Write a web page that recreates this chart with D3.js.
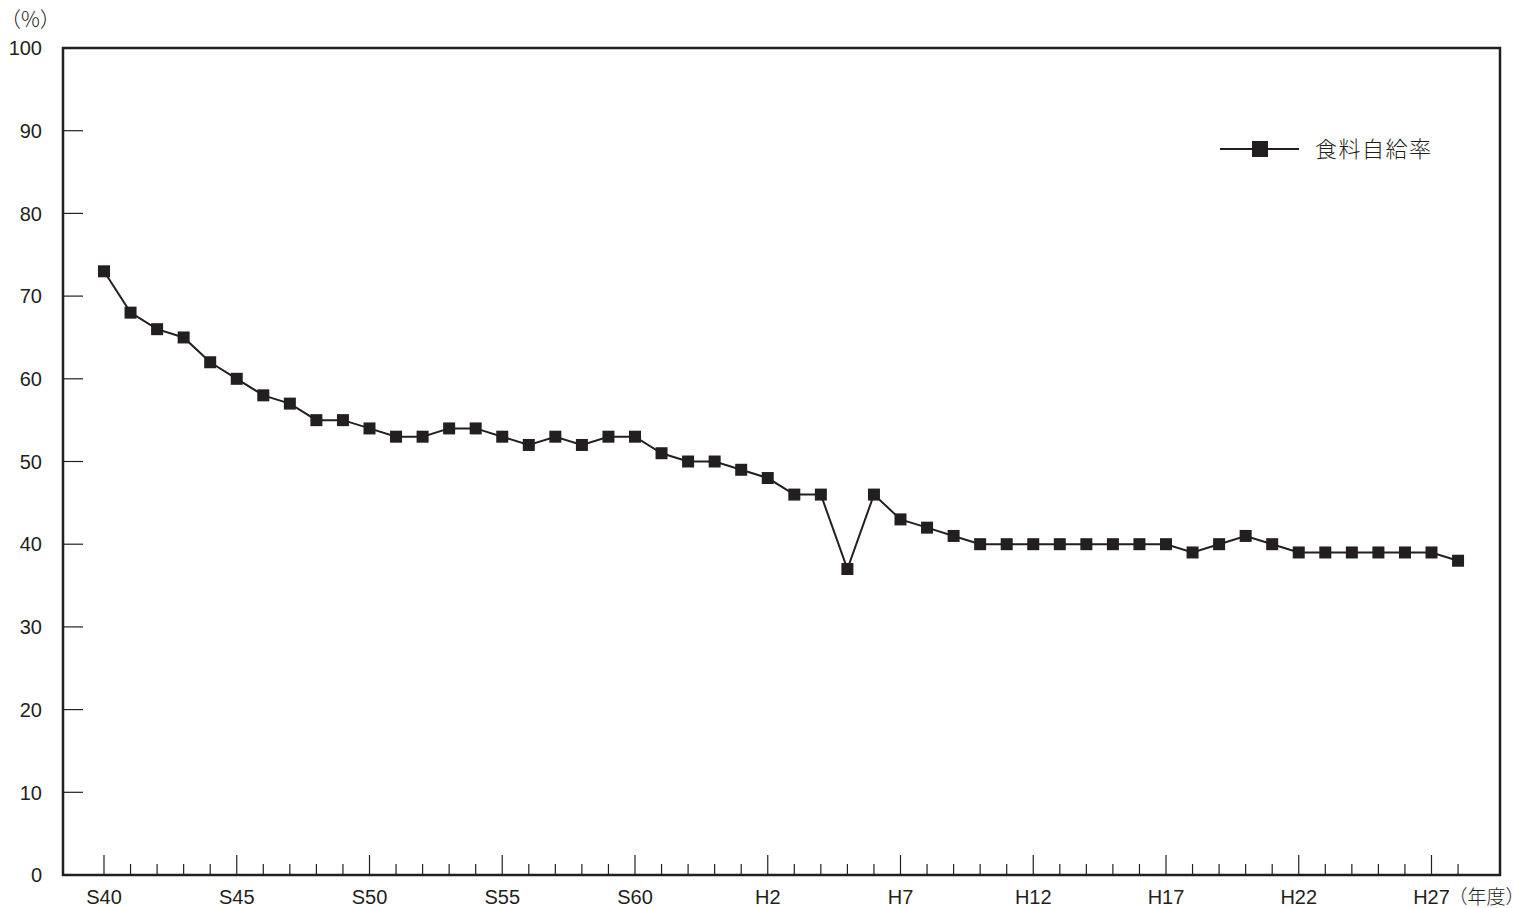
<!DOCTYPE html>
<html>
<head>
<meta charset="utf-8">
<script src="https://cdn.jsdelivr.net/npm/d3@7"></script>
<style>
  body { margin: 0; background: #fff; }
  svg text { font-family: "Liberation Sans", "Noto Sans CJK JP", sans-serif; fill: #231f20; }
  svg text.jp { font-family: "Noto Sans CJK JP", sans-serif; font-weight: 300; }
</style>
</head>
<body>
<div id="chart"></div>
<script>
// fiscal years S40 (1965) .. H28 (2016)
var years = d3.range(1965, 2017);
var rate = [73, 68, 66, 65, 62, 60, 58, 57, 55, 55,
            54, 53, 53, 54, 54, 53, 52, 53, 52, 53,
            53, 51, 50, 50, 49, 48, 46, 46, 37, 46,
            43, 42, 41, 40, 40, 40, 40, 40, 40, 40,
            40, 39, 40, 41, 40, 39, 39, 39, 39, 39,
            39, 38];
var yTicks = [10, 20, 30, 40, 50, 60, 70, 80, 90];
var yLabels = [0, 10, 20, 30, 40, 50, 60, 70, 80, 90, 100];
var xLabelYears = [1965, 1970, 1975, 1980, 1985, 1990, 1995, 2000, 2005, 2010, 2015];
var xLabels = ["S40", "S45", "S50", "S55", "S60", "H2", "H7", "H12", "H17", "H22", "H27"];
var seriesName = "食料自給率";

var ink = "#231f20";
var width = 1531, height = 908;
var margin = {top: 48, right: 31, bottom: 33, left: 63},
    w = width - margin.left - margin.right,
    h = height - margin.top - margin.bottom;

var svg = d3.select("#chart").append("svg")
    .attr("width", width)
    .attr("height", height);

var g = svg.append("g")
    .attr("transform", "translate(" + margin.left + "," + margin.top + ")");

var x = d3.scaleLinear().domain([1963.456, 2017.58]).range([0, w]);
var y = d3.scaleLinear().domain([0, 100]).range([h, 0]);

// y tick marks (inside)
g.selectAll(".ytick")
    .data(yTicks)
    .enter().append("line")
    .attr("x1", 0).attr("x2", 20)
    .attr("y1", function (d) { return y(d); })
    .attr("y2", function (d) { return y(d); })
    .attr("stroke", ink)
    .attr("stroke-width", 1.2);

// x tick marks (inside, longer every 5 years)
g.selectAll(".xtick")
    .data(years)
    .enter().append("line")
    .attr("x1", function (d) { return x(d); })
    .attr("x2", function (d) { return x(d); })
    .attr("y1", h)
    .attr("y2", function (d) { return (d - 1965) % 5 == 0 ? h - 20 : h - 11; })
    .attr("stroke", ink)
    .attr("stroke-width", 1.2);

// frame
g.append("rect")
    .attr("width", w).attr("height", h)
    .attr("fill", "none")
    .attr("stroke", ink)
    .attr("stroke-width", 2.5);

// y labels
g.selectAll(".ylab")
    .data(yLabels)
    .enter().append("text")
    .attr("x", -21)
    .attr("y", function (d) { return y(d); })
    .attr("dy", "0.36em")
    .attr("text-anchor", "end")
    .style("font-size", "20px")
    .text(function (d) { return d; });

svg.append("text")
    .attr("class", "jp")
    .attr("x", 0).attr("y", 27)
    .style("font-size", "21px")
    .text("（%）");

// x labels
g.selectAll(".xlab")
    .data(xLabelYears)
    .enter().append("text")
    .attr("x", function (d) { return x(d); })
    .attr("y", h + 29)
    .attr("text-anchor", "middle")
    .style("font-size", "20px")
    .text(function (d, i) { return xLabels[i]; });

g.append("text")
    .attr("class", "jp")
    .attr("x", x(2015) + 17)
    .attr("y", h + 29)
    .style("font-size", "19px")
    .text("（年度）");

// line
var line = d3.line()
    .x(function (d, i) { return x(years[i]); })
    .y(function (d) { return y(d); });

g.append("path")
    .datum(rate)
    .attr("d", line)
    .attr("fill", "none")
    .attr("stroke", ink)
    .attr("stroke-width", 2);

g.selectAll(".pt")
    .data(rate)
    .enter().append("rect")
    .attr("x", function (d, i) { return x(years[i]) - 6; })
    .attr("y", function (d) { return y(d) - 6; })
    .attr("width", 12).attr("height", 12)
    .attr("fill", ink);

// legend
var lg = svg.append("g").attr("transform", "translate(1220,149)");
lg.append("line")
    .attr("x1", 0).attr("x2", 79)
    .attr("stroke", ink).attr("stroke-width", 2);
lg.append("rect")
    .attr("x", 32).attr("y", -8)
    .attr("width", 16).attr("height", 16)
    .attr("fill", ink);
lg.append("text")
    .attr("class", "jp")
    .attr("x", 95).attr("dy", "0.36em")
    .style("font-size", "22px")
    .style("letter-spacing", "1.5px")
    .text(seriesName);
</script>
</body>
</html>
